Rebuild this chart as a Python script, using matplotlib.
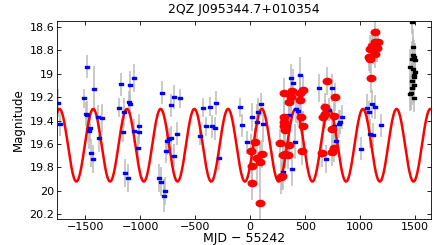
import numpy as np
import matplotlib
matplotlib.use('Agg')
import matplotlib.pyplot as plt
from matplotlib.path import Path
from matplotlib.ticker import FuncFormatter

# blue points (MJD - 55242, mag, err)
blue_t = [-1748, -1727, -1512, -1497, -1485, -1479, -1467, -1458, -1448, -1433,
          -1418, -1379, -1370, -1345, -1189, -1170, -1159, -1143, -1134, -1109,
          -1100, -1095, -1089, -1060, -1056, -1021, -1015, -1009, -833, -809,
          -803, -788, -773, -761, -752, -739, -724, -721, -697, -691,
          -661, -639, -452, -430, -400, -366, -348, -324, -309, -288,
          -97, -75, -27, 15, 64, 70, 94, 118, 300, 348,
          357, 370, 373, 379, 385, 403, 415, 436, 448, 476,
          627, 688, 712, 745, 766, 782, 803, 812, 830, 1009,
          1066, 1079, 1091, 1109, 1115, 1130, 1191]
blue_mag = [19.25, 19.43, 19.21, 19.345, 18.94, 19.355, 19.49, 19.46, 19.68, 19.73,
            19.13, 19.37, 19.55, 19.375, 19.29, 19.09, 19.50, 19.325, 19.85, 19.89,
            19.245, 19.26, 19.10, 19.035, 19.49, 19.63, 19.50, 19.445, 19.89, 19.92,
            19.16, 20.04, 20.00, 19.66, 19.57, 19.56, 19.55, 19.27, 19.20, 19.70,
            19.51, 19.21, 19.53, 19.29, 19.45, 19.28, 19.45, 19.465, 19.25, 19.72,
            19.285, 19.44, 19.585, 19.37, 19.41, 19.33, 19.26, 19.43, 19.84, 19.35,
            19.61, 19.20, 19.04, 19.81, 19.08, 19.58, 19.30, 19.32, 19.01, 19.44,
            19.12, 19.73, 19.305, 19.12, 19.45, 19.57, 19.43, 19.41, 19.37, 19.64,
            19.29, 19.33, 19.51, 19.26, 19.52, 19.285, 19.44]
blue_err = [0.12, 0.10, 0.08, 0.10, 0.10, 0.12, 0.15, 0.12, 0.12, 0.12,
            0.20, 0.10, 0.12, 0.12, 0.08, 0.10, 0.08, 0.12, 0.12, 0.12,
            0.10, 0.08, 0.12, 0.12, 0.10, 0.10, 0.10, 0.10, 0.12, 0.12,
            0.10, 0.14, 0.12, 0.10, 0.12, 0.10, 0.10, 0.10, 0.10, 0.10,
            0.10, 0.08, 0.08, 0.08, 0.08, 0.08, 0.10, 0.10, 0.10, 0.10,
            0.08, 0.10, 0.10, 0.12, 0.15, 0.12, 0.10, 0.15, 0.15, 0.12,
            0.12, 0.15, 0.12, 0.15, 0.12, 0.15, 0.12, 0.12, 0.15, 0.12,
            0.12, 0.12, 0.10, 0.12, 0.10, 0.10, 0.12, 0.10, 0.10, 0.10,
            0.12, 0.10, 0.12, 0.12, 0.10, 0.10, 0.10]

# red points
red_t = [6, 12, 12, 43, 66, 88, 88, 103, 273, 279,
         288, 300, 303, 303, 305, 309, 315, 318, 345, 355,
         357, 370, 379, 448, 455, 464, 470, 476, 482, 652,
         666, 676, 682, 697, 739, 742, 757, 761, 773, 1082,
         1088, 1091, 1096, 1106, 1120, 1133, 1136, 1136, 1150, 1164]
red_mag = [19.66, 19.785, 19.93, 19.585, 19.72, 19.75, 20.10, 19.685, 19.59, 19.88,
           19.87, 19.69, 19.16, 19.37, 19.41, 19.45, 19.48, 19.685, 19.69, 19.61,
           19.24, 19.20, 19.15, 19.16, 19.225, 19.37, 19.66, 19.14, 19.45, 19.68,
           19.37, 19.34, 19.28, 19.06, 19.67, 19.47, 19.36, 19.63, 19.20, 18.86,
           18.87, 18.785, 19.04, 18.76, 18.80, 18.83, 18.64, 18.73, 18.78, 18.73]
red_err = [0.15, 0.15, 0.15, 0.12, 0.20, 0.15, 0.20, 0.12, 0.12, 0.15,
           0.12, 0.12, 0.12, 0.12, 0.12, 0.12, 0.12, 0.12, 0.12, 0.12,
           0.12, 0.12, 0.12, 0.12, 0.12, 0.12, 0.12, 0.12, 0.12, 0.12,
           0.12, 0.12, 0.12, 0.12, 0.12, 0.12, 0.12, 0.12, 0.12, 0.12,
           0.12, 0.12, 0.12, 0.12, 0.12, 0.12, 0.12, 0.12, 0.12, 0.12]

# black points
black_t = [1470, 1479, 1479, 1491, 1470, 1500, 1454, 1479, 1500, 1485,
           1491, 1470, 1485, 1475, 1461, 1454, 1491]
black_mag = [18.56, 18.77, 18.84, 18.86, 18.87, 18.885, 18.94, 18.96, 18.985, 19.01,
             19.03, 19.06, 19.10, 19.12, 19.16, 19.17, 19.21]
black_err = [0.10, 0.15, 0.15, 0.15, 0.15, 0.15, 0.15, 0.15, 0.15, 0.15,
             0.15, 0.15, 0.15, 0.15, 0.15, 0.15, 0.12]

# sinusoid model
period = 306.4
amp = 0.31
mean_mag = 19.61
t_min = -1580.0

# ellipse / flat markers
th = np.linspace(0, 2 * np.pi, 40)
ell = Path(np.column_stack([np.cos(th), 0.72 * np.sin(th)]))
flat = Path([(-1, -0.7), (1, -0.7), (1, 0.7), (-1, 0.7), (-1, -0.7)])

fig = plt.figure(figsize=(4.36, 2.45), dpi=100)
ax = fig.add_axes([0.131, 0.106, 0.858, 0.808])

bar_col = '#bababa'
for t, m, e in [(blue_t, blue_mag, blue_err), (red_t, red_mag, red_err), (black_t, black_mag, black_err)]:
    ax.errorbar(t, m, yerr=e, fmt='none', ecolor=bar_col, elinewidth=1.1, capsize=0, zorder=1)

tt = np.linspace(-1800, 1700, 2000)
model = mean_mag + amp * np.cos(2 * np.pi * (tt - t_min) / period)
ax.plot(tt, model, color='red', lw=1.8, zorder=2)

ax.plot(blue_t, blue_mag, ls='none', marker=flat, ms=2.7, color='blue', mec='blue', zorder=3)
ax.plot(red_t, red_mag, ls='none', marker=ell, ms=6.2, color='red', mec='red', zorder=4)
ax.plot(black_t, black_mag, ls='none', marker=flat, ms=2.5, color='black', zorder=4)

ax.set_xlim(-1755, 1645)
ax.set_ylim(20.24, 18.55)
ax.set_xticks([-1500, -1000, -500, 0, 500, 1000, 1500])
ax.set_yticks([18.6, 18.8, 19, 19.2, 19.4, 19.6, 19.8, 20, 20.2])
ax.yaxis.set_major_formatter(FuncFormatter(lambda v, p: '%g' % v))
ax.xaxis.set_major_formatter(FuncFormatter(lambda v, p: ('\u2212%g' % -v) if v < 0 else '%g' % v))
ax.tick_params(direction='in', top=True, right=True, length=3, width=0.6, labelsize=8, pad=2)
for s in ax.spines.values():
    s.set_linewidth(0.6)

ax.set_title('2QZ J095344.7+010354', fontsize=9, pad=6)
ax.set_xlabel('MJD \u2212 55242', fontsize=9, labelpad=0)
ax.set_ylabel('Magnitude', fontsize=8.5, labelpad=3)

fig.savefig('out.png', dpi=100)
